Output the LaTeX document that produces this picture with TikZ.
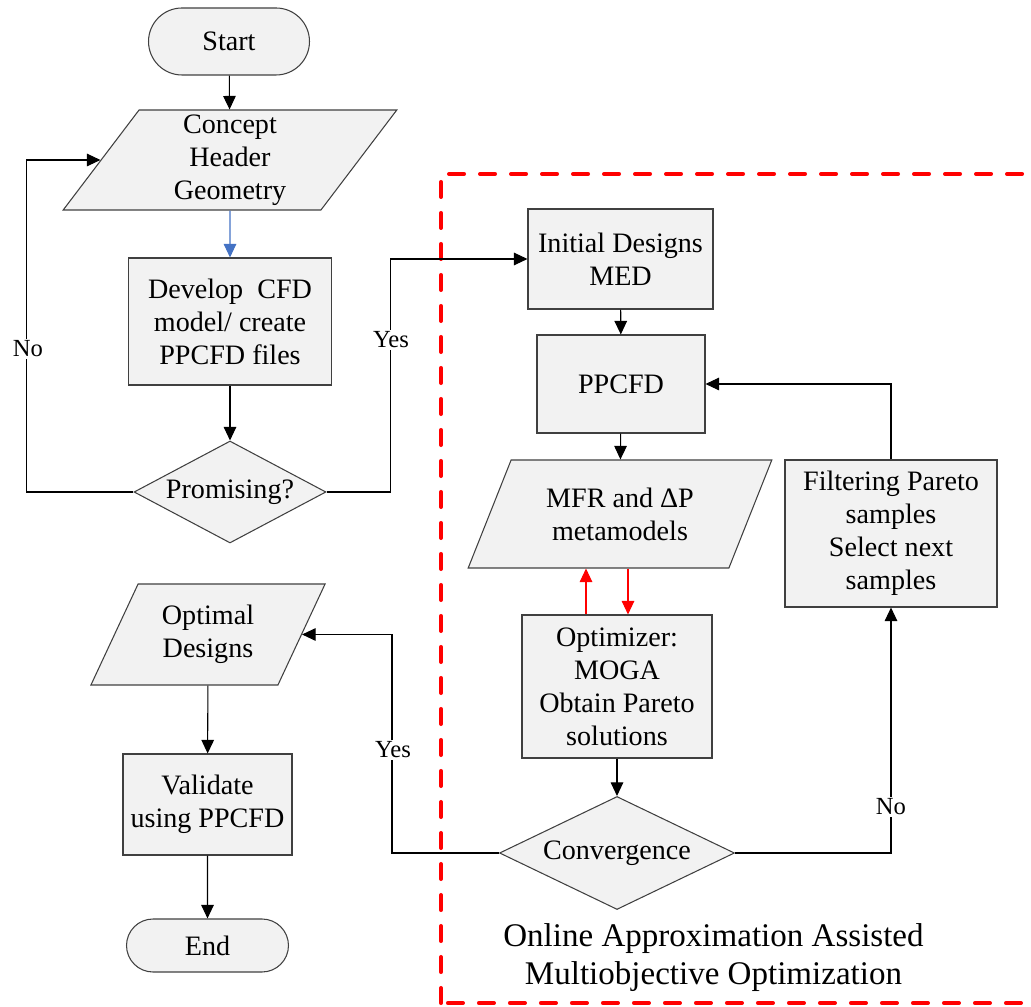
\documentclass[tikz,border=0pt]{standalone}
\usepackage{fontspec}
\setmainfont{Liberation Serif}
\usetikzlibrary{arrows.meta, shapes.geometric, shapes.misc, calc}
\definecolor{boxfill}{RGB}{242, 242, 242}
\definecolor{boxline}{RGB}{64, 64, 64}
\definecolor{flowblue}{RGB}{68, 114, 196}

\begin{document}
\begin{tikzpicture}[font=\fontsize{16}{18.8}\selectfont, semithick,
    base/.style={draw=boxline, fill=boxfill, align=center, inner sep=2pt},
    proc/.style={base, rectangle},
    io/.style={base, trapezium, trapezium left angle=63, trapezium right angle=117, trapezium stretches=true},
    term/.style={base, rounded rectangle},
    dec/.style={base, diamond, inner sep=0pt},
    lbl/.style={fill=white, inner sep=1pt, font=\fontsize{14}{16}\selectfont},
    >={Triangle[length=0.27cm, width=0.25cm]}]
  \useasboundingbox (0,0) rectangle (20.62,20.12);

  % Optimization loop frame
  \draw[red, line width=2.3pt, dash pattern=on 0.3cm off 0.32cm, line cap=round] (8.82,0.06) rectangle (21.6,16.64);
  \node[font=\fontsize{18.8}{21.8}\selectfont, align=center] (frame) at (14.27,0.97) {Online Approximation Assisted\\Multiobjective Optimization};

  % Left column
  \node[term, minimum width=3.36cm, minimum height=1.34cm] (start) at (4.58,19.29) {Start};
  \node[io, minimum width=6.68cm, minimum height=2.0cm] (concept) at (4.60,16.92) {Concept\\Header\\Geometry};
  \node[proc, minimum width=4.06cm, minimum height=2.54cm] (develop) at (4.60,13.69) {Develop~ CFD\\model/ create\\PPCFD files};
  \node[dec, aspect=1.88, minimum width=3.84cm, minimum height=2.04cm] (promising) at (4.60,10.28) {Promising?};
  \node[io, minimum width=4.72cm, minimum height=2.02cm] (optimal) at (4.16,7.43) {Optimal\\Designs};
  \node[proc, minimum width=3.38cm, minimum height=2.02cm] (validate) at (4.15,4.03) {Validate\\using PPCFD};
  \node[term, minimum width=3.38cm, minimum height=1.06cm] (end) at (4.15,1.21) {End};

  % Right column
  \node[proc, minimum width=3.70cm, minimum height=2.0cm] (initial) at (12.41,14.94) {Initial Designs\\MED};
  \node[proc, minimum width=3.36cm, minimum height=1.96cm] (ppcfd) at (12.42,12.44) {PPCFD};
  \node[io, minimum width=6.08cm, minimum height=2.16cm] (mfr) at (12.40,9.84) {MFR and ΔP\\metamodels};
  \node[proc, minimum width=3.80cm, minimum height=2.86cm] (optimizer) at (12.34,6.39) {Optimizer:\\MOGA\\Obtain Pareto\\solutions};
  \node[dec, aspect=2.08, minimum width=4.7cm, minimum height=2.26cm] (convergence) at (12.34,3.06) {Convergence};
  \node[proc, minimum width=4.24cm, minimum height=2.94cm] (filtering) at (17.82,9.45) {Filtering Pareto\\samples\\Select next\\samples};

  % Main flow
  \draw[->] (start) -- (concept);
  \draw[->, flowblue] (concept) -- (develop);
  \draw[->] (develop) -- (promising);
  \draw[->] (promising.west) -- ++(-2.14,0) |- (concept.west);
  \node[lbl] (no1) at (0.56,13.14) {No};
  \draw[->] (promising.east) -- ++(1.28,0) |- (initial.west);
  \node[lbl] (yes1) at (7.82,13.32) {Yes};

  % Inner loop
  \draw[->] (initial) -- (ppcfd);
  \draw[->] (ppcfd) -- (mfr);
  \coordinate (query) at ($(optimizer.north)+(-0.62,0)$);
  \coordinate (reply) at ($(optimizer.north)+(0.22,0)$);
  \draw[->, red] (query) -- (query |- mfr.south);
  \draw[->, red] (reply |- mfr.south) -- (reply);
  \draw[->] (optimizer) -- (convergence);
  \draw[->] (convergence.east) -| (filtering.south);
  \node[lbl] (no2) at (17.82,3.98) {No};
  \draw[->] (filtering.north) |- (ppcfd.east);
  \draw[->] (convergence.west) -- ++(-2.14,0) |- (optimal.east);
  \node[lbl] (yes2) at (7.86,5.12) {Yes};
  \draw[->] (optimal) -- (validate);
  \draw[->] (validate) -- (end);
\end{tikzpicture}
\end{document}
